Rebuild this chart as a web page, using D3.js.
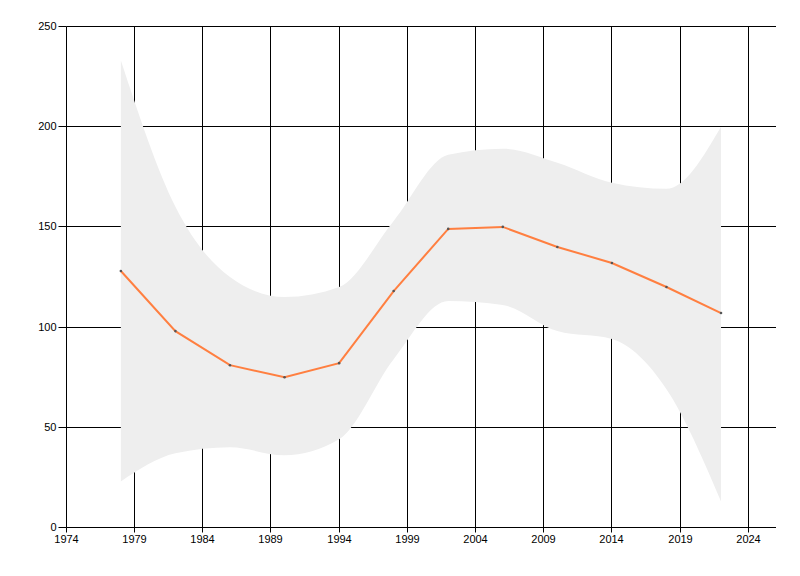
<!DOCTYPE html>
<html>
<head>
<meta charset="utf-8">
<script src="https://cdn.jsdelivr.net/npm/d3@7"></script>
<style>
  html, body { margin: 0; padding: 0; background: #fff; }
  svg { display: block; }
  text { font-family: "Liberation Sans", Arial, sans-serif; font-size: 11px; fill: #000; }
</style>
</head>
<body>
<svg id="chart" width="800" height="576"></svg>
<script>
const years = [1978, 1982, 1986, 1990, 1994, 1998, 2002, 2006, 2010, 2014, 2018, 2022];
const values = [128, 98, 81, 75, 82, 118, 149, 150, 140, 132, 120, 107];
const upper = [233, 160, 125, 115, 120, 153, 186, 189, 182, 172, 169, 200];
const lower = [23, 37, 40, 36, 44, 84, 113, 111, 98, 94, 69, 13];
const xTicks = [1974, 1979, 1984, 1989, 1994, 1999, 2004, 2009, 2014, 2019, 2024];
const yTicks = [0, 50, 100, 150, 200, 250];

const svg = d3.select("#chart");
const x = d3.scaleLinear().domain([1974, 2026]).range([66.3, 775.6]);
const y = d3.scaleLinear().domain([0, 250]).range([527.5, 26.5]);
const px = v => Math.floor(x(v)) + 0.5;
const py = v => Math.floor(y(v)) + 0.5;

// gridlines
const grid = svg.append("g").attr("stroke", "#000").attr("stroke-width", 1);
grid.selectAll("line.h").data(yTicks.filter(d => d > 0)).join("line")
  .attr("x1", px(1974)).attr("x2", 776).attr("y1", d => py(d)).attr("y2", d => py(d));
grid.selectAll("line.v").data(xTicks.filter(d => d > 1974)).join("line")
  .attr("y1", py(0)).attr("y2", py(250)).attr("x1", d => px(d)).attr("x2", d => px(d));

// band
const bandData = years.map((yr, i) => ({ yr, lo: lower[i], hi: upper[i] }));
svg.append("path").datum(bandData)
  .attr("fill", "#eeeeee")
  .attr("d", d3.area().curve(d3.curveMonotoneX)
    .x(d => x(d.yr)).y0(d => y(d.lo)).y1(d => y(d.hi)));

// line
const lineData = years.map((yr, i) => ({ yr, v: values[i] }));
svg.append("path").datum(lineData)
  .attr("fill", "none").attr("stroke", "#ff7f40").attr("stroke-width", 2)
  .attr("d", d3.line().x(d => x(d.yr)).y(d => y(d.v)));
svg.append("g").selectAll("circle").data(lineData).join("circle")
  .attr("cx", d => x(d.yr)).attr("cy", d => y(d.v)).attr("r", 1.3)
  .attr("fill", "#555");

// axes
const xAxis = d3.axisBottom(x).tickValues(xTicks).tickFormat(d3.format("d"))
  .tickSize(5).tickSizeOuter(0);
const gx = svg.append("g").attr("transform", `translate(0,${py(0)})`).call(xAxis);
gx.select(".domain").attr("d", `M${px(1974)},0H776`).attr("stroke", "#000");
gx.selectAll(".tick").attr("transform", d => `translate(${px(d)},0)`);
gx.selectAll(".tick line").attr("stroke", "#000");
gx.selectAll(".tick text").attr("y", 8).attr("dy", "0.71em");
gx.selectAll("text").style("font-family", "'Liberation Sans', Arial, sans-serif").style("font-size", "11px");

const yAxis = d3.axisLeft(y).tickValues(yTicks).tickSize(8).tickSizeOuter(0);
const gy = svg.append("g").attr("transform", `translate(${px(1974)},0)`).call(yAxis);
gy.select(".domain").attr("d", `M0,${py(0)}V${py(250)}`).attr("stroke", "#000");
gy.selectAll(".tick").attr("transform", d => `translate(0,${py(d)})`);
gy.selectAll(".tick line").attr("stroke", "#000");
gy.selectAll(".tick text").attr("x", -10);
gy.selectAll("text").style("font-family", "'Liberation Sans', Arial, sans-serif").style("font-size", "11px");
</script>
</body>
</html>
